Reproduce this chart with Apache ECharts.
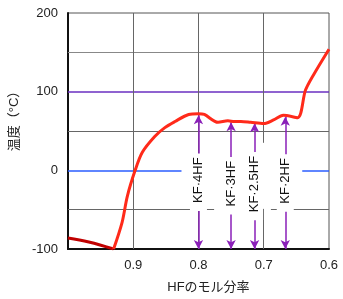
<!DOCTYPE html>
<html><head><meta charset="utf-8">
<script src="https://cdn.jsdelivr.net/npm/echarts@6/dist/echarts.min.js"></script>
<style>html,body{margin:0;padding:0;background:#fff}#c{width:343px;height:299px}</style>
</head><body><div id="c"></div>
<script>
// data
const xTicks = [0.6, 0.7, 0.8, 0.9, 1.0];
const yTicks = [-100, 0, 100, 200];
const darkX = [1.0, 0.968, 0.93];
const darkY = [-86, -91, -100];
const curveX = [0.93, 0.917, 0.909, 0.897, 0.886, 0.867, 0.852, 0.836, 0.815, 0.80, 0.791, 0.770, 0.755, 0.745, 0.735, 0.72, 0.70, 0.685, 0.67, 0.648, 0.636, 0.624, 0.60];
const curveY = [-100, -66, -33, 0, 23, 43, 54, 62, 71, 72, 71, 61, 63, 62, 62, 61, 59.5, 64, 70, 67, 102, 121, 154];
const compNames = ['KF·4HF', 'KF·3HF', 'KF·2.5HF', 'KF·2HF'];
const compX = [0.8, 0.75, 0.714, 0.667];
const compTop = [70, 61, 60, 68];

const FONT = '"Liberation Sans", Arial, "Noto Sans CJK JP", sans-serif';
const grey = '#666';
function seg(x1, y1, x2, y2, color, w) {
  return [{coord: [x1, y1], lineStyle: {color: color, width: w, type: 'solid'}}, {coord: [x2, y2]}];
}
const gridSegs = [
  seg(1.0, 150, 0.6, 150, '#888', 1),
  seg(1.0, 50, 0.6, 50, grey, 1),
  seg(1.0, -50, 0.776, -50, grey, 1),
  seg(0.689, -50, 0.6, -50, grey, 1),
  seg(1.0, 0, 0.826, 0, '#2a5cff', 1.5),
  seg(0.641, 0, 0.6, 0, '#2a5cff', 1.5),
  seg(1.0, 100, 0.6, 100, '#6a2fc0', 1.5),
  seg(0.9, 200, 0.9, -100, grey, 1),
  seg(0.8, 200, 0.8, -100, grey, 1),
  seg(0.7, 200, 0.7, 35, grey, 1),
  seg(0.7, -49, 0.7, -100, grey, 1)
];
const arrowSegs = compNames.map((n, i) => [
  {coord: [compX[i], -100], name: n},
  {coord: [compX[i], compTop[i]]}
]);

const chart = echarts.init(document.getElementById('c'), null, {renderer: 'canvas'});
chart.setOption({
  animation: false,
  textStyle: {fontFamily: FONT},
  grid: {left: 66, right: 14, top: 13, bottom: 49, show: true, borderColor: '#555', borderWidth: 1},
  xAxis: {
    type: 'value', inverse: true, min: 0.6, max: 1.0, interval: 0.1,
    axisLine: {show: true, onZero: false, lineStyle: {color: '#111', width: 2}},
    axisTick: {show: false}, splitLine: {show: false},
    axisLabel: {margin: 10, color: '#222', fontSize: 13, fontFamily: FONT,
      formatter: v => (Math.abs(v - 1.0) < 1e-6 ? '' : v.toFixed(1))},
    name: 'HFのモル分率', nameLocation: 'middle', nameGap: 32,
    nameTextStyle: {color: '#222', fontSize: 13, fontFamily: FONT, padding: [0, 0, 0, 20]}
  },
  yAxis: {
    type: 'value', min: -100, max: 200, interval: 50,
    axisLine: {show: true, onZero: false, lineStyle: {color: '#111', width: 2}},
    axisTick: {show: false}, splitLine: {show: false},
    axisLabel: {margin: 10, color: '#222', fontSize: 13, fontFamily: FONT,
      formatter: v => (yTicks.indexOf(v) >= 0 ? String(v) : '')},
    name: '温度（°C）', nameLocation: 'middle', nameGap: 44, nameRotate: 90,
    nameTextStyle: {color: '#222', fontSize: 13, fontFamily: FONT, padding: [0, 0, 0, 26]}
  },
  series: [
    {
      type: 'line', data: [], silent: true,
      markLine: {silent: true, symbol: 'none', label: {show: false}, animation: false, data: gridSegs}
    },
    {
      type: 'line', data: darkX.map((x, i) => [x, darkY[i]]), smooth: 0.4, symbol: 'none',
      lineStyle: {color: '#c00000', width: 3}, z: 5
    },
    {
      type: 'line', data: curveX.map((x, i) => [x, curveY[i]]), smooth: 0.3, symbol: 'none',
      lineStyle: {color: '#ff2a1a', width: 3}, z: 5
    },
    {
      type: 'line', data: [], silent: true, z: 6,
      markLine: {
        silent: true, symbol: ['arrow', 'arrow'], symbolSize: [7, 9], animation: false,
        lineStyle: {color: '#8a1fb8', width: 1.5, type: 'solid'},
        label: {show: true, position: 'middle', distance: 0, align: 'center', verticalAlign: 'middle',
          formatter: p => p.name, color: '#111',
          fontSize: 13, fontFamily: FONT, backgroundColor: '#fff', padding: [2, 4, 2, 8]},
        data: arrowSegs
      }
    }
  ]
});
</script></body></html>
